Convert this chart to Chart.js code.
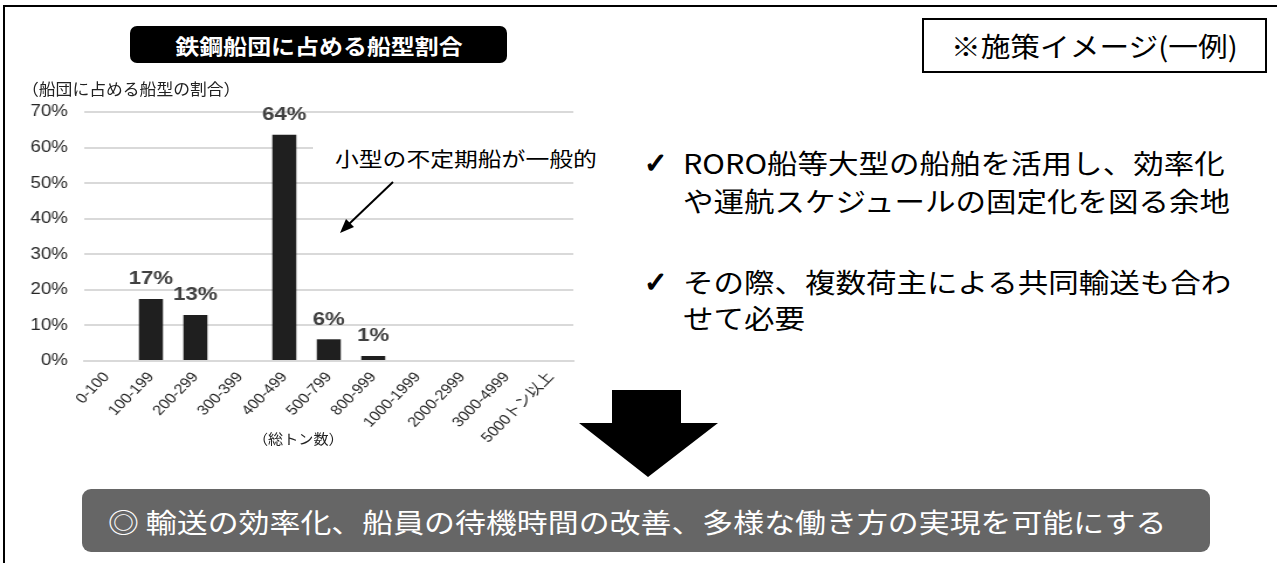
<!DOCTYPE html>
<html lang="ja">
<head>
<meta charset="utf-8">
<script src="https://cdn.jsdelivr.net/npm/chart.js@4.4.1/dist/chart.umd.min.js"></script>
<style>
  html, body { margin: 0; padding: 0; background: #fff; }
  body { width: 1279px; height: 563px; position: relative; overflow: hidden;
         font-family: "Noto Sans CJK JP", "Noto Sans", sans-serif; }
  .abs { position: absolute; white-space: nowrap; }
  .stretch { display: inline-block; transform-origin: left center; }
  #chartWrap { position: absolute; left: 0; top: 0; width: 520px; height: 470px;
               transform: scaleX(1.17); transform-origin: 0 0; }
  #titleBox { left: 130px; top: 26px; width: 377px; height: 37px; background: #000;
              border-radius: 7px; display: flex; align-items: center; justify-content: center; }
  #titleBox span { color: #fff; font-weight: bold; font-size: 21px; transform: scaleX(1.14);
                   transform-origin: center; display: inline-block; }
  #noteBox { left: 922px; top: 18px; width: 345px; height: 55px; border: 2px solid #000;
             box-sizing: border-box; background: #fff; display: flex; align-items: center;
             justify-content: center; }
  #noteBox span { font-size: 27px; transform: scaleX(1.1); display: inline-block; }
  .point { font-size: 27px; line-height: 38px; color: #000; }
  .check { font-family: "DejaVu Sans", sans-serif; font-size: 28px; line-height: 38px;
           -webkit-text-stroke: 1.2px #000; }
  #resultBar { left: 82px; top: 489px; width: 1128px; height: 63px; background: #666;
               border-radius: 9px; }
</style>
</head>
<body>
<div id="chartWrap"><canvas id="shipChart" width="520" height="470"></canvas></div>

<!-- white box that hides the grid behind the note text -->
<div class="abs" style="left:313px; top:131px; width:300px; height:45px; background:#fff;"></div>
<div class="abs" style="left:335px; top:144px; font-size:20px; line-height:30px;">
  <span class="stretch" style="transform: scaleX(1.19);">小型の不定期船が一般的</span>
</div>

<div class="abs" style="left:22px; top:76px; font-size:16px; line-height:24px; color:#222;">
  <span class="stretch" style="transform: scaleX(1.05);">（船団に占める船型の割合）</span>
</div>
<div class="abs" style="left:253px; top:427px; font-size:14px; line-height:22px; color:#222;">
  <span class="stretch" style="transform: scaleX(1.08);">（総トン数）</span>
</div>

<div id="titleBox" class="abs"><span>鉄鋼船団に占める船型割合</span></div>
<div id="noteBox" class="abs"><span>※施策イメージ(一例)</span></div>

<div class="abs check" style="left:644px; top:145px;">✓</div>
<div class="abs point" style="left:683px; top:144px;"><span class="stretch" style="transform: scaleX(1.13);">RORO船等大型の船舶を活用し、効率化</span></div>
<div class="abs point" style="left:683px; top:182px;"><span class="stretch" style="transform: scaleX(1.13);">や運航スケジュールの固定化を図る余地</span></div>
<div class="abs check" style="left:644px; top:264px;">✓</div>
<div class="abs point" style="left:683px; top:263px;"><span class="stretch" style="transform: scaleX(1.13);">その際、複数荷主による共同輸送も合わ</span></div>
<div class="abs point" style="left:683px; top:299px;"><span class="stretch" style="transform: scaleX(1.13);">せて必要</span></div>

<div id="resultBar" class="abs"></div>
<div class="abs" style="left:108px; top:502px; font-size:27px; line-height:40px; color:#fff;">
  <span class="stretch" style="transform: scaleX(1.145);">◎ 輸送の効率化、船員の待機時間の改善、多様な働き方の実現を可能にする</span>
</div>

<svg class="abs" style="left:0; top:0; pointer-events:none;" width="1279" height="563">
  <line x1="3" y1="6" x2="1277" y2="6" stroke="#000" stroke-width="2"/>
  <line x1="4" y1="6" x2="4" y2="563" stroke="#000" stroke-width="2"/>
  <line x1="393" y1="182" x2="349" y2="224" stroke="#000" stroke-width="2"/>
  <polygon points="340,233 354,227 346,219" fill="#000"/>
  <polygon points="612,390 681,390 681,423 718,423 648,477 579,423 612,423" fill="#000"/>
</svg>

<script>
// gross tonnage classes and their share of the steel fleet (%)
const sizeClasses = ['0-100', '100-199', '200-299', '300-399', '400-499', '500-799',
                     '800-999', '1000-1999', '2000-2999', '3000-4999', '5000トン以上'];
const shares = [0, 17.4, 12.9, 0, 63.6, 6.1, 1.4, 0, 0, 0, 0];
const yMax = 70;
const yStep = 10;

const tickFont = '"Liberation Sans", Arial, "Noto Sans CJK JP", sans-serif';

// percent labels above the bars
const barLabels = {
    id: 'barLabels',
    afterDatasetsDraw(chart) {
        const ctx = chart.ctx;
        const meta = chart.getDatasetMeta(0);
        ctx.save();
        ctx.font = 'bold 19px ' + tickFont;
        ctx.fillStyle = '#404040';
        ctx.textAlign = 'center';
        ctx.textBaseline = 'middle';
        meta.data.forEach((bar, i) => {
            if (shares[i] > 0) {
                ctx.fillText(Math.round(shares[i]) + '%', bar.x, bar.y - 20);
            }
        });
        ctx.restore();
    }
};

const ctx = document.getElementById('shipChart').getContext('2d');
new Chart(ctx, {
    type: 'bar',
    data: {
        labels: sizeClasses,
        datasets: [{
            data: shares,
            backgroundColor: '#1f1f1f',
            barPercentage: 0.54,
            categoryPercentage: 1
        }]
    },
    options: {
        responsive: false,
        animation: false,
        layout: { padding: { top: 112, right: 30, left: 0, bottom: 0 } },
        plugins: {
            legend: { display: false },
            tooltip: { enabled: false }
        },
        scales: {
            x: {
                grid: { display: false, drawTicks: false },
                border: { color: '#d9d9d9', width: 2 },
                ticks: {
                    autoSkip: false,
                    minRotation: 49.5,
                    maxRotation: 49.5,
                    padding: 8,
                    color: '#262626',
                    font: { family: tickFont, size: 14 }
                },
                afterFit(scale) { scale.height = 109; }
            },
            y: {
                min: 0,
                max: yMax,
                grid: { color: '#d9d9d9', lineWidth: 2, drawTicks: false },
                border: { display: false },
                ticks: {
                    stepSize: yStep,
                    padding: 14,
                    color: '#262626',
                    font: { family: tickFont, size: 16 },
                    callback: v => v + '%'
                },
                afterFit(scale) { scale.width = 72; }
            }
        }
    },
    plugins: [barLabels]
});
</script>
</body>
</html>
